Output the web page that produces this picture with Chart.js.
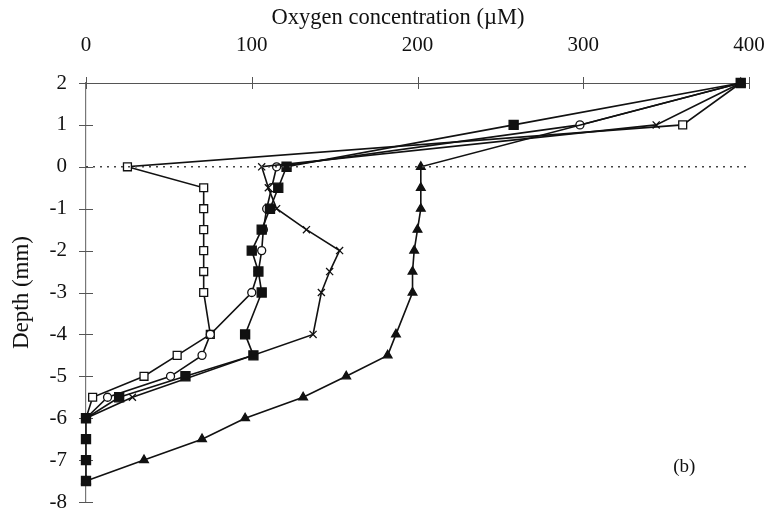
<!DOCTYPE html>
<html>
<head>
<meta charset="utf-8">
<script src="https://cdn.jsdelivr.net/npm/chart.js@4.4.1/dist/chart.umd.min.js"></script>
<style>
  html, body { margin: 0; padding: 0; background: #fff; }
  #c { display: block; }
</style>
</head>
<body>
<canvas id="c" width="768" height="511"></canvas>
<script>
// Oxygen micro-profiles: depth (mm) vs O2 concentration (µM)
const depthsOpenSquare = [2, 1, 0, -0.5, -1, -1.5, -2, -2.5, -3, -4, -4.5, -5, -5.5, -6];
const o2OpenSquare     = [395, 360, 25, 71, 71, 71, 71, 71, 71, 75, 55, 35, 4, 0];

const depthsOpenCircle = [2, 1, 0, -0.5, -1, -1.5, -2, -2.5, -3, -4, -4.5, -5, -5.5, -6];
const o2OpenCircle     = [395, 298, 115, 112, 109, 107, 106, 104, 100, 75, 70, 51, 13, 0];

const depthsFilledSquare = [2, 1, 0, -0.5, -1, -1.5, -2, -2.5, -3, -4, -4.5, -5, -5.5, -6, -6.5, -7, -7.5];
const o2FilledSquare     = [395, 258, 121, 116, 111, 106, 100, 104, 106, 96, 101, 60, 20, 0, 0, 0, 0];

const depthsCross = [2, 1, 0, -0.5, -1, -1.5, -2, -2.5, -3, -4, -5.5, -6];
const o2Cross     = [395, 344, 106, 110, 115, 133, 153, 147, 142, 137, 28, 0];

const depthsTriangle = [2, 0, -0.5, -1, -1.5, -2, -2.5, -3, -4, -4.5, -5, -5.5, -6, -6.5, -7, -7.5];
const o2Triangle     = [395, 202, 202, 202, 200, 198, 197, 197, 187, 182, 157, 131, 96, 70, 35, 0];

const xTicks = [0, 100, 200, 300, 400];
const yTicks = [2, 1, 0, -1, -2, -3, -4, -5, -6, -7, -8];

const FONT = '"Liberation Serif", "Times New Roman", serif';
const INK = '#111';

function toPoints(xs, ys) {
  return xs.map((v, i) => ({ x: v, y: ys[i] }));
}

function profile(xs, ys, style, radius, fill) {
  return {
    data: toPoints(xs, ys),
    showLine: true,
    clip: false,
    borderColor: INK,
    borderWidth: 1.6,
    pointStyle: style,
    pointRadius: radius,
    pointBorderWidth: 1.3,
    pointBorderColor: INK,
    pointBackgroundColor: fill,
    tension: 0
  };
}

// Tick marks that straddle the axis lines, plus the panel label and the top title
const axisDecor = {
  id: 'axisDecor',
  beforeDatasetsDraw(chart) {
    const { ctx, chartArea, scales: { x, y } } = chart;
    ctx.save();
    ctx.strokeStyle = '#555';
    ctx.lineWidth = 1;
    ctx.beginPath();
    yTicks.forEach(v => {
      const py = Math.round(y.getPixelForValue(v)) + 0.5;
      ctx.moveTo(chartArea.left - 7, py);
      ctx.lineTo(chartArea.left + 7, py);
    });
    xTicks.forEach(v => {
      const px = Math.round(x.getPixelForValue(v)) + 0.5;
      ctx.moveTo(px, chartArea.top - 6);
      ctx.lineTo(px, chartArea.top + 6);
    });
    ctx.stroke();
    ctx.restore();
  },
  afterDraw(chart) {
    const { ctx, scales: { x, y } } = chart;
    ctx.save();
    ctx.fillStyle = INK;
    ctx.font = '22.5px ' + FONT;
    ctx.textAlign = 'center';
    ctx.textBaseline = 'middle';
    ctx.fillText('Oxygen concentration (µM)', 398, 18);
    ctx.font = '19px ' + FONT;
    ctx.fillText('(b)', x.getPixelForValue(361), y.getPixelForValue(-7.17));
    ctx.restore();
  }
};

new Chart(document.getElementById('c'), {
  type: 'scatter',
  data: {
    datasets: [
      {
        data: [{ x: 0, y: 0 }, { x: 400, y: 0 }],
        showLine: true,
        clip: false,
        borderColor: '#444',
        borderWidth: 1.5,
        borderDash: [2, 5],
        pointRadius: 0
      },
      profile(o2Triangle, depthsTriangle, 'triangle', 5, INK),
      profile(o2Cross, depthsCross, 'crossRot', 5, '#fff'),
      profile(o2FilledSquare, depthsFilledSquare, 'rect', 6.4, INK),
      profile(o2OpenCircle, depthsOpenCircle, 'circle', 4, '#fff'),
      profile(o2OpenSquare, depthsOpenSquare, 'rect', 5.6, '#fff')
    ]
  },
  options: {
    responsive: false,
    animation: false,
    layout: { padding: { left: 0, top: 0, right: 19, bottom: 9 } },
    plugins: {
      legend: { display: false },
      tooltip: { enabled: false }
    },
    scales: {
      x: {
        type: 'linear',
        position: 'top',
        min: 0,
        max: 400,
        afterBuildTicks(s) { s.ticks = xTicks.map(v => ({ value: v })); },
        afterFit(s) {
          s.height = 83;
          s.paddingLeft = 0;
          s.paddingRight = 0;
        },
        ticks: {
          color: INK,
          font: { family: FONT, size: 21 },
          padding: 25,
          maxRotation: 0
        },
        grid: { display: false, drawTicks: false },
        border: { display: true, color: '#555', width: 1 }
      },
      y: {
        type: 'linear',
        position: 'left',
        min: -8,
        max: 2,
        afterBuildTicks(s) { s.ticks = yTicks.map(v => ({ value: v })); },
        afterFit(s) {
          s.width = 86;
          s.paddingTop = 0;
          s.paddingBottom = 0;
        },
        ticks: {
          color: INK,
          font: { family: FONT, size: 21 },
          padding: 19
        },
        grid: { display: false, drawTicks: false },
        border: { display: true, color: '#777', width: 1.2 },
        title: {
          display: true,
          text: 'Depth (mm)',
          color: INK,
          font: { family: FONT, size: 23 },
          padding: { top: 8, bottom: 0 }
        }
      }
    }
  },
  plugins: [axisDecor]
});
</script>
</body>
</html>
